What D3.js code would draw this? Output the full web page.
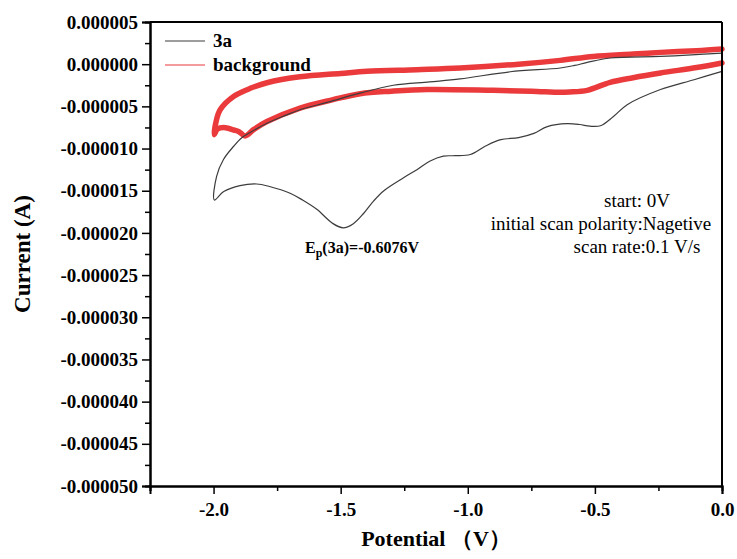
<!DOCTYPE html>
<html>
<head>
<meta charset="utf-8">
<script src="https://cdn.jsdelivr.net/npm/d3@7"></script>
<title>Cyclic voltammogram 3a</title>
<style>
body { margin:0; background:#fff; }
text { font-family:"Liberation Serif","Times New Roman",serif; }
</style>
</head>
<body>
<div id="chart"></div>
<script>
// potential (V) and current (uA)
var v3a = [0,-0.11,-0.242,-0.373,-0.427,-0.478,-0.52,-0.56,-0.61,-0.687,-0.74,-0.80,-0.87,-0.93,-0.99,-1.05,-1.096,-1.15,-1.20,-1.26,-1.33,-1.37,-1.41,-1.45,-1.49,-1.53,-1.594,-1.65,-1.699,-1.78,-1.83,-1.896,-1.96,-1.997,
           -1.988,-1.961,-1.92,-1.89,-1.856,-1.79,-1.72,-1.66,-1.55,-1.42,-1.293,-1.15,-1.03,-0.833,-0.636,-0.58,-0.53,-0.44,-0.242,-0.12,0];
var i3a = [-0.85,-1.84,-3.0,-4.8,-6.2,-7.3,-7.35,-7.15,-7.05,-7.4,-8.2,-8.7,-8.95,-9.7,-10.7,-10.85,-10.9,-11.5,-12.5,-13.6,-15.0,-16.2,-17.7,-18.9,-19.4,-18.9,-17.2,-16.1,-15.3,-14.5,-14.2,-14.4,-15.1,-16.1,
           -13.3,-11.3,-9.7,-8.75,-8.1,-7.0,-6.1,-5.4,-4.5,-3.4,-2.5,-2.1,-1.75,-0.9,-0.45,-0.15,0.21,0.73,0.92,1.1,1.32];

var vBg = [0,-0.1,-0.242,-0.35,-0.44,-0.53,-0.6,-0.636,-0.75,-0.9,-1.16,-1.3,-1.423,-1.53,-1.66,-1.79,-1.84,-1.876,-1.90,-1.92,-1.96,-1.985,-1.997,
           -1.99,-1.974,-1.92,-1.85,-1.79,-1.66,-1.5,-1.396,-1.2,-1.03,-0.8,-0.636,-0.506,-0.35,-0.242,-0.1,0];
var iBg = [0.14,-0.4,-1.04,-1.6,-2.15,-3.1,-3.3,-3.34,-3.2,-3.1,-3.0,-3.2,-3.5,-4.2,-5.2,-6.8,-7.7,-8.5,-8.0,-7.8,-7.5,-7.7,-8.35,
           -6.8,-5.4,-3.8,-2.8,-2.2,-1.5,-1.1,-0.85,-0.65,-0.45,0.0,0.45,0.92,1.2,1.4,1.6,1.8];

var xTicks = [-2.0,-1.5,-1.0,-0.5,0.0];
var xMinor = [-2.25,-1.75,-1.25,-0.75,-0.25];
var yTicks = [5,0,-5,-10,-15,-20,-25,-30,-35,-40,-45,-50];
var yMinor = [2.5,-2.5,-7.5,-12.5,-17.5,-22.5,-27.5,-32.5,-37.5,-42.5,-47.5];

(function(){

var w = 737, h = 559;
var pL = 150, pR = 722, pT = 22, pB = 486;

var svg = d3.select("#chart").append("svg")
    .attr("width", w).attr("height", h);

var x = d3.scaleLinear().domain([-2.25, 0]).range([pL, pR]);
var y = d3.scaleLinear().domain([-50, 5]).range([pB, pT]);

var line = d3.line()
    .x(function(d) { return x(d[0]); })
    .y(function(d) { return y(d[1]); })
    .curve(d3.curveCatmullRom.alpha(0.5));

// background (red, thick) first, 3a drawn on top
svg.append("path")
   .datum(d3.zip(vBg, iBg))
   .attr("d", line)
   .attr("fill", "none").attr("stroke", "#ea3a3c")
   .attr("stroke-width", 5.5).attr("stroke-linejoin", "round").attr("stroke-linecap", "round");

svg.append("path")
   .datum(d3.zip(v3a, i3a))
   .attr("d", line)
   .attr("fill", "none").attr("stroke", "#3c3c3c")
   .attr("stroke-width", 1.2);

// axes
var fmtY = function(d) { return (d / 1e6).toFixed(6); };
var fmtX = function(d) { return d.toFixed(1); };

svg.append("g").attr("transform", "translate(" + pL + ",0)")
   .call(d3.axisLeft(y).tickValues(yTicks).tickSize(8).tickPadding(4).tickFormat(fmtY));
svg.append("g").attr("transform", "translate(" + pL + ",0)")
   .call(d3.axisLeft(y).tickValues(yMinor).tickSize(5).tickFormat(""));

svg.append("g").attr("transform", "translate(0," + pB + ")")
   .call(d3.axisBottom(x).tickValues(xTicks).tickSize(8).tickPadding(9).tickFormat(fmtX));
svg.append("g").attr("transform", "translate(0," + pB + ")")
   .call(d3.axisBottom(x).tickValues(xMinor).tickSize(5).tickFormat(""));

svg.selectAll(".domain").attr("stroke", "#000").attr("stroke-width", 2);
svg.selectAll(".tick line").attr("stroke", "#000").attr("stroke-width", 1.5);
svg.selectAll(".tick text")
   .style("font-family", "'Liberation Serif', serif")
   .style("font-weight", "bold").style("font-size", "19px").attr("fill", "#000");

// top and right frame
svg.append("line").attr("x1", pL).attr("x2", pR).attr("y1", pT).attr("y2", pT)
   .attr("stroke", "#000").attr("stroke-width", 2);
svg.append("line").attr("x1", pR).attr("x2", pR).attr("y1", pT).attr("y2", pB)
   .attr("stroke", "#000").attr("stroke-width", 2);

// axis titles
svg.append("text")
   .attr("x", (pL + pR) / 2).attr("y", 546)
   .attr("text-anchor", "middle")
   .style("font-weight", "bold").style("font-size", "22px")
   .text("Potential （V）");

svg.append("text")
   .attr("transform", "translate(30," + (pT + pB) / 2 + ") rotate(-90)")
   .attr("text-anchor", "middle")
   .style("font-weight", "bold").style("font-size", "23px")
   .text("Current (A)");

// legend
var legend = [["3a", "#3c3c3c"], ["background", "#ea3a3c"]];
legend.forEach(function(d, i) {
  var yy = 41 + i * 24;
  svg.append("line").attr("x1", 165).attr("x2", 205).attr("y1", yy).attr("y2", yy)
     .attr("stroke", d[1]).attr("stroke-width", 1.2);
  svg.append("text").attr("x", 213).attr("y", yy + 6)
     .style("font-weight", "bold").style("font-size", "19px")
     .text(d[0]);
});

// peak annotation
var ep = svg.append("text").attr("x", 305).attr("y", 253)
   .style("font-weight", "bold").style("font-size", "16px");
ep.append("tspan").text("E");
ep.append("tspan").attr("dy", 4).style("font-size", "12px").text("p");
ep.append("tspan").attr("dy", -4).text("(3a)=-0.6076V");

// conditions
var notes = [["start: 0V", 637, 207], ["initial scan polarity:Nagetive", 601, 230], ["scan rate:0.1 V/s", 637, 253]];
notes.forEach(function(d) {
  svg.append("text").attr("x", d[1]).attr("y", d[2])
     .attr("text-anchor", "middle").style("font-size", "19px")
     .text(d[0]);
});

})();
</script>
</body>
</html>
